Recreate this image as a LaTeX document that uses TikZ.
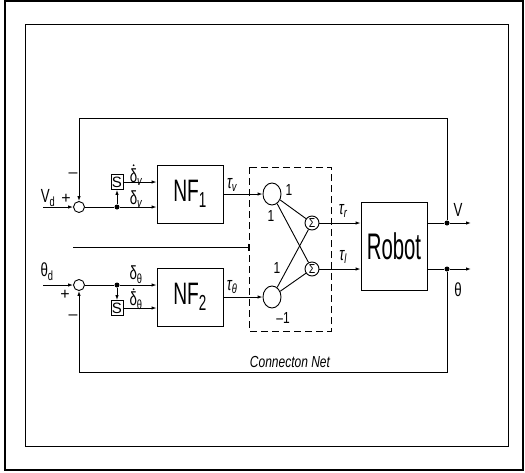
\documentclass[tikz,border=0pt]{standalone}
\usepackage{fontspec}
\setmainfont{Liberation Sans}
\usepackage{graphicx}
\usetikzlibrary{arrows.meta,shapes.geometric}
\newcommand{\cx}[2]{\scalebox{#1}[1]{#2}}
\begin{document}
\begin{tikzpicture}[x=1pt,y=-1pt,line width=0.9pt,
  >={Latex[length=5pt,width=3.5pt]},
  sumj/.style={circle,draw,minimum size=11pt,inner sep=0pt},
  sbox/.style={rectangle,draw,minimum width=12pt,minimum height=15pt,inner sep=0pt,font=\fontsize{15}{15}\selectfont},
  blk/.style={rectangle,draw,minimum width=66pt,minimum height=58pt,inner sep=0pt},
  neu/.style={ellipse,draw,minimum width=18pt,minimum height=22pt,inner sep=0pt},
  sig/.style={circle,draw,minimum size=14pt,inner sep=0pt,font=\fontsize{13}{13}\selectfont},
  dotn/.style={circle,fill,minimum size=5pt,inner sep=0pt},
  lbl/.style={inner sep=0pt,font=\fontsize{19}{19}\selectfont},
  slbl/.style={inner sep=0pt,font=\fontsize{16}{16}\selectfont}]
\useasboundingbox (0,0) rectangle (525,472);
\draw[line width=1.2pt] (5,1) rectangle (523,470);
\draw[line width=1pt] (25,24) rectangle (508,446);

% summing junctions and branch points
\node[sumj] (sum1) at (79,207) {};
\node[sumj] (sum2) at (79,285) {};
\coordinate (vin) at (43,207);
\coordinate (tin) at (43,285);
\node[dotn] (d1) at (117,207) {};
\node[dotn] (d2) at (117,285) {};
\node[sbox] (S1) at (117,182) {S};
\node[sbox] (S2) at (117,308) {S};

% NF blocks
\node[blk] (NF1) at (190,194) {\fontsize{31}{31}\selectfont\cx{0.62}{NF\textsubscript{1}}};
\node[blk] (NF2) at (190,297) {\fontsize{31}{31}\selectfont\cx{0.62}{NF\textsubscript{2}}};

% connection net
\draw[dashed,line width=0.9pt,dash pattern=on 7pt off 4pt] (249,167) rectangle (331,331);
\node[neu] (c1) at (272,194) {};
\node[neu] (c2) at (272,297) {};
\node[sig] (sg1) at (312,223) {\cx{0.8}{Σ}};
\node[sig] (sg2) at (312,269) {\cx{0.8}{Σ}};

% robot
\node[rectangle,draw,minimum width=66pt,minimum height=88pt,inner sep=0pt] (rob) at (394,246) {\fontsize{37}{37}\selectfont\cx{0.55}{Robot}};
\node[dotn] (jV) at (447,223) {};
\node[dotn] (jT) at (447,269) {};
\coordinate (oV) at (471,223);
\coordinate (oT) at (471,269);
\coordinate (fbVa) at (447,118);
\coordinate (fbVb) at (79,118);
\coordinate (fbTa) at (447,372);
\coordinate (fbTb) at (79,372);
\coordinate (m1) at (73,247);
\coordinate (m2) at (249,247);

% connectors
\draw[->] (vin) -- (sum1);
\draw[->] (tin) -- (sum2);
\draw (sum1) -- (d1);
\draw (sum2) -- (d2);
\draw[->] (d1) -- (d1 -| NF1.west);
\draw[->] (d2) -- (d2 -| NF2.west);
\draw[->] (d1) -- (S1);
\draw[->] (d2) -- (S2);
\draw[->] (S1) -- (S1 -| NF1.west);
\draw[->] (S2) -- (S2 -| NF2.west);
\draw[->] (NF1) -- (c1);
\draw[->] (NF2) -- (c2);
\draw (c1) -- (sg1);
\draw (c1) -- (sg2);
\draw (c2) -- (sg1);
\draw (c2) -- (sg2);
\draw[->] (sg1) -- (sg1 -| rob.west);
\draw[->] (sg2) -- (sg2 -| rob.west);
\draw (rob.east |- jV) -- (jV);
\draw (rob.east |- jT) -- (jT);
\draw[->] (jV) -- (oV);
\draw[->] (jT) -- (oT);
\draw[->] (jV) -- (fbVa) -- (fbVb) -- (sum1);
\draw[->] (jT) -- (fbTa) -- (fbTb) -- (sum2);
\draw[-{Bar[width=7pt]}] (m1) -- (m2);

% labels
\node[lbl] at (48,198) {\cx{0.7}{V\textsubscript{d}}};
\node[slbl] at (66,199) {+};
\node[slbl] at (73,175) {–};
\node[lbl] at (47,272) {\cx{0.7}{θ\textsubscript{d}}};
\node[slbl] at (65,295) {+};
\node[slbl] at (73,317) {–};
\node[lbl] (ldv) at (136,177) {\cx{0.7}{δ\textsubscript{\itshape v}}};
\fill (133.6,165.2) circle (0.95pt);
\node[lbl] at (136,199) {\cx{0.7}{δ\textsubscript{\itshape v}}};
\node[lbl] at (136,275) {\cx{0.7}{δ\textsubscript{θ}}};
\node[lbl] (ldt) at (136,301) {\cx{0.7}{δ\textsubscript{θ}}};
\fill (133.6,289.2) circle (0.95pt);
\node[lbl] at (232,185) {\cx{0.7}{\itshape τ\textsubscript{v}}};
\node[lbl] at (232,287) {\cx{0.7}{\itshape τ\textsubscript{θ}}};
\node[lbl] at (343,211) {\cx{0.7}{\itshape τ\textsubscript{r}}};
\node[lbl] at (343,257) {\cx{0.7}{\itshape τ\textsubscript{l}}};
\node[lbl] at (458,210) {\cx{0.7}{V}};
\node[lbl] at (458,290) {\cx{0.7}{θ}};
\node[slbl] at (289,190) {\cx{0.75}{1}};
\node[slbl] at (271,216) {\cx{0.75}{1}};
\node[slbl] at (277,268) {\cx{0.75}{1}};
\node[slbl] at (283,318) {\cx{0.75}{–1}};
\node[lbl] at (290,362) {\fontsize{16}{16}\selectfont\itshape\cx{0.75}{Connecton Net}};
\end{tikzpicture}
\end{document}
